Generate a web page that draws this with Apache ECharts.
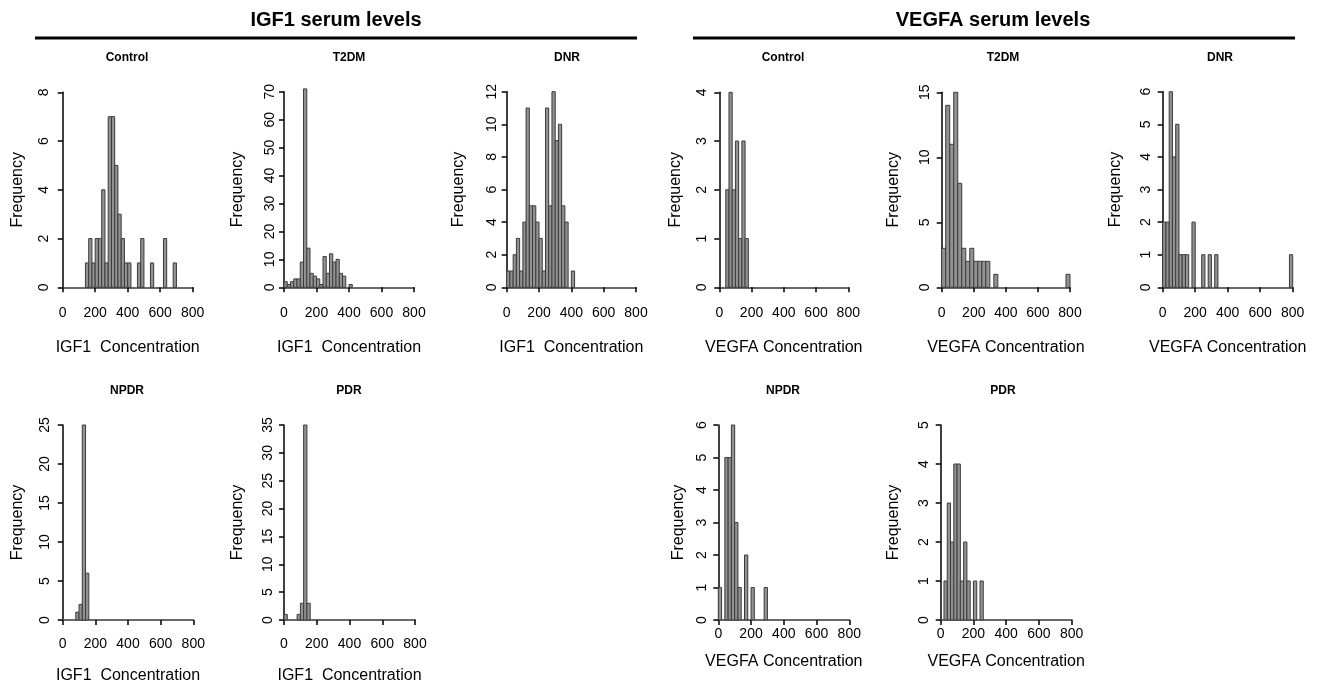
<!DOCTYPE html>
<html>
<head>
<meta charset="utf-8">
<script src="https://cdn.jsdelivr.net/npm/echarts@6.0.0/dist/echarts.min.js"></script>
<style>
  html, body { margin: 0; background: #fff; }
  #main { width: 1320px; height: 687px; }
</style>
</head>
<body>
<div id="main"></div>
<script>
// x range shared by all histograms
const xTicks = [0, 200, 400, 600, 800];

// counts per bin, bins start at 0
const igf1Control = [0, 0, 0, 0, 0, 0, 0, 1, 2, 1, 2, 2, 4, 1, 7, 7, 5, 3, 2, 1, 1, 0, 0, 1, 2, 0, 0, 1, 0, 0, 0, 2, 0, 0, 1];
const igf1T2dm = [2, 1, 2, 3, 3, 9, 71, 14, 5, 4, 3, 1, 11, 5, 12, 9, 10, 5, 4, 0, 1];
const igf1Dnr = [1, 1, 2, 3, 1, 4, 11, 5, 5, 4, 3, 1, 11, 5, 12, 9, 10, 5, 4, 0, 1];
const igf1Npdr = [0, 0, 0, 0, 1, 2, 25, 6];
const igf1Pdr = [1, 0, 0, 0, 1, 3, 35, 3];
const vegfaControl = [0, 0, 2, 4, 2, 3, 1, 3, 1];
const vegfaT2dm = [3, 14, 11, 15, 8, 3, 2, 3, 2, 2, 2, 2, 0, 1, 0, 0, 0, 0, 0, 0, 0, 0, 0, 0, 0, 0, 0, 0, 0, 0, 0, 1];
const vegfaDnr = [2, 2, 6, 4, 5, 1, 1, 1, 0, 2, 0, 0, 1, 0, 1, 0, 1, 0, 0, 0, 0, 0, 0, 0, 0, 0, 0, 0, 0, 0, 0, 0, 0, 0, 0, 0, 0, 0, 0, 1];
const vegfaNpdr = [1, 0, 5, 5, 6, 3, 1, 0, 2, 0, 1, 0, 0, 0, 1];
const vegfaPdr = [0, 1, 3, 2, 4, 4, 1, 2, 1, 0, 1, 0, 1];

// panel layout (pixels), y tick range
const panels = [
  { title: 'Control', counts: igf1Control, bin: 20, name: 'IGF1  Concentration', l: 62.7, r: 192.7, t: 92.3, b: 287.3, yMax: 8, yStep: 2, yAx: 55, fq: 18, tx: 127, ty: 58, xOff: 10, nGap: 42, lm: 9 },
  { title: 'T2DM', counts: igf1T2dm, bin: 20, name: 'IGF1  Concentration', l: 284, r: 414, t: 91.7, b: 287.3, yMax: 70, yStep: 10, yAx: 280.7, fq: 238, tx: 349, ty: 58, xOff: 10, nGap: 42, lm: 9 },
  { title: 'DNR', counts: igf1Dnr, bin: 20, name: 'IGF1  Concentration', l: 506.7, r: 636, t: 91.7, b: 287.3, yMax: 12, yStep: 2, yAx: 502.7, fq: 459, tx: 567, ty: 58, xOff: 10, nGap: 42, lm: 9 },
  { title: 'Control', counts: vegfaControl, bin: 20, name: 'VEGFA Concentration', l: 719.3, r: 848.3, t: 92.3, b: 287.3, yMax: 4, yStep: 1, yAx: 713.3, fq: 676, tx: 783, ty: 58, xOff: 10, nGap: 42, lm: 9 },
  { title: 'T2DM', counts: vegfaT2dm, bin: 25, name: 'VEGFA Concentration', l: 941.7, r: 1070, t: 92.3, b: 287.3, yMax: 15, yStep: 5, yAx: 936, fq: 894, tx: 1003, ty: 58, xOff: 10, nGap: 42, lm: 9 },
  { title: 'DNR', counts: vegfaDnr, bin: 20, name: 'VEGFA Concentration', l: 1162.7, r: 1292.7, t: 91.7, b: 287.3, yMax: 6, yStep: 1, yAx: 1156.7, fq: 1116, tx: 1220, ty: 58, xOff: 10, nGap: 42, lm: 9 },
  { title: 'NPDR', counts: igf1Npdr, bin: 20, name: 'IGF1  Concentration', l: 62.7, r: 193.3, t: 425, b: 620, yMax: 25, yStep: 5, yAx: 56, fq: 18, tx: 127, ty: 391, xOff: 8, nGap: 40, lm: 9 },
  { title: 'PDR', counts: igf1Pdr, bin: 20, name: 'IGF1  Concentration', l: 284, r: 415, t: 425, b: 620, yMax: 35, yStep: 5, yAx: 279.3, fq: 238, tx: 349, ty: 391, xOff: 8, nGap: 40, lm: 9 },
  { title: 'NPDR', counts: vegfaNpdr, bin: 20, name: 'VEGFA Concentration', l: 718.3, r: 849.3, t: 425, b: 620, yMax: 6, yStep: 1, yAx: 713.3, fq: 679, tx: 783, ty: 391, xOff: 2, nGap: 32, lm: 5 },
  { title: 'PDR', counts: vegfaPdr, bin: 20, name: 'VEGFA Concentration', l: 940.7, r: 1071.7, t: 425, b: 620, yMax: 5, yStep: 1, yAx: 935, fq: 894, tx: 1003, ty: 391, xOff: 2, nGap: 32, lm: 5 }
];

const font = 'Liberation Sans, Arial, sans-serif';
const chart = echarts.init(document.getElementById('main'));

function renderBar(params, api) {
  const p0 = api.coord([api.value(0), api.value(2)]);
  const p1 = api.coord([api.value(1), 0]);
  return {
    type: 'rect',
    shape: { x: p0[0], y: p0[1], width: p1[0] - p0[0], height: p1[1] - p0[1] },
    style: { fill: '#929292', stroke: '#3c3c3c', lineWidth: 1 }
  };
}

const grid = [], xAxis = [], yAxis = [], series = [], graphic = [];

panels.forEach((p, i) => {
  grid.push({ left: p.l, top: p.t, width: p.r - p.l, height: p.b - p.t });
  xAxis.push({
    type: 'value', gridIndex: i, min: xTicks[0], max: xTicks[xTicks.length - 1], interval: 200,
    position: 'bottom', offset: p.xOff,
    name: p.name, nameLocation: 'middle', nameGap: p.nGap,
    nameTextStyle: { fontFamily: font, fontSize: 16, color: '#000' },
    axisLine: { show: true, lineStyle: { color: '#000', width: 1.5 } },
    axisTick: { show: true, length: 5, lineStyle: { color: '#000', width: 1.5 } },
    axisLabel: { fontFamily: font, fontSize: 14, color: '#000', margin: p.lm },
    splitLine: { show: false }
  });
  // grey line at zero
  xAxis.push({
    type: 'value', gridIndex: i, min: 0, max: 800, position: 'bottom', offset: 0,
    axisLine: { show: true, lineStyle: { color: '#7a7a7a', width: 1.5 } },
    axisTick: { show: false }, axisLabel: { show: false }, splitLine: { show: false }
  });
  yAxis.push({
    type: 'value', gridIndex: i, min: 0, max: p.yMax, interval: p.yStep,
    position: 'left', offset: p.l - p.yAx,
    name: 'Frequency', nameLocation: 'middle', nameGap: p.yAx - p.fq - 8,
    nameTextStyle: { fontFamily: font, fontSize: 16, color: '#000' },
    axisLine: { show: true, lineStyle: { color: '#000', width: 1.5 } },
    axisTick: { show: true, length: 5, lineStyle: { color: '#000', width: 1.5 } },
    axisLabel: { fontFamily: font, fontSize: 14, color: '#000', rotate: 90, margin: 4 },
    splitLine: { show: false }
  });
  series.push({
    type: 'custom', xAxisIndex: i * 2, yAxisIndex: i,
    renderItem: renderBar,
    encode: { x: [0, 1], y: 2 },
    data: p.counts.map((c, k) => [k * p.bin, (k + 1) * p.bin, c]).filter(d => d[2] > 0)
  });
  graphic.push({
    type: 'text', x: p.tx, y: p.ty,
    style: { text: p.title, font: 'bold 12px ' + font, fill: '#000', textAlign: 'center', textVerticalAlign: 'middle' }
  });
});

graphic.push(
  { type: 'text', x: 336, y: 20, style: { text: 'IGF1 serum levels', font: 'bold 20px ' + font, fill: '#000', textAlign: 'center', textVerticalAlign: 'middle' } },
  { type: 'text', x: 993, y: 20, style: { text: 'VEGFA serum levels', font: 'bold 20px ' + font, fill: '#000', textAlign: 'center', textVerticalAlign: 'middle' } },
  { type: 'line', shape: { x1: 35, y1: 38, x2: 637, y2: 38 }, style: { stroke: '#000', lineWidth: 3 } },
  { type: 'line', shape: { x1: 693, y1: 38, x2: 1295, y2: 38 }, style: { stroke: '#000', lineWidth: 3 } }
);

chart.setOption({
  animation: false,
  backgroundColor: '#fff',
  grid: grid,
  xAxis: xAxis,
  yAxis: yAxis,
  series: series,
  graphic: graphic
});
</script>
</body>
</html>
